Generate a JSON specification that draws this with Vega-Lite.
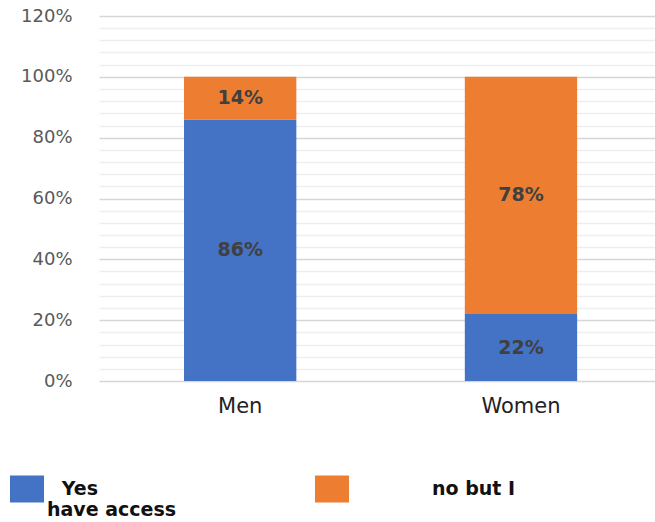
{
  "$schema": "https://vega.github.io/schema/vega-lite/v6.json",
  "width": 556,
  "height": 365,
  "autosize": {"type": "none"},
  "padding": {"left": 99, "top": 16, "right": 0, "bottom": 141},
  "background": "white",
  "config": {"view": {"stroke": null}},
  "data": {
    "values": [
      {"group": "Men", "answer": "Yes have access", "rank": 1, "share": 0.86},
      {"group": "Men", "answer": "no but I", "rank": 2, "share": 0.14},
      {"group": "Women", "answer": "Yes have access", "rank": 1, "share": 0.22},
      {"group": "Women", "answer": "no but I", "rank": 2, "share": 0.78}
    ]
  },
  "transform": [
    {"stack": "share", "groupby": ["group"], "sort": [{"field": "rank", "order": "ascending"}], "as": ["share_lo", "share_hi"]},
    {"calculate": "(datum.share_lo + datum.share_hi) / 2", "as": "share_mid"}
  ],
  "encoding": {
    "x": {
      "field": "group",
      "type": "nominal",
      "sort": ["Men", "Women"],
      "scale": {"paddingInner": 0.6, "paddingOuter": 0.29, "align": 0.522},
      "axis": {
        "title": null,
        "domain": false,
        "ticks": false,
        "grid": false,
        "labelAngle": 0,
        "labelPadding": 14,
        "labelFont": "DejaVu Sans",
        "labelFontSize": 21,
        "labelColor": "#222222"
      }
    }
  },
  "layer": [
    {
      "mark": {"type": "bar"},
      "encoding": {
        "y": {
          "field": "share_lo",
          "type": "quantitative",
          "scale": {"domain": [0, 1.2], "nice": false},
          "axis": {
            "title": null,
            "domain": false,
            "ticks": false,
            "labelOverlap": false,
            "tickCount": 60,
            "values": [0, 0.04, 0.08, 0.12, 0.16, 0.2, 0.24, 0.28, 0.32, 0.36, 0.4, 0.44, 0.48, 0.52, 0.56, 0.6, 0.64, 0.68, 0.72, 0.76, 0.8, 0.84, 0.88, 0.92, 0.96, 1.0, 1.04, 1.08, 1.12, 1.16, 1.2],
            "labelExpr": "round(datum.value * 100) % 20 === 0 ? format(datum.value, '.0%') : ''",
            "labelPadding": 27,
            "labelFont": "DejaVu Sans",
            "labelFontSize": 18,
            "labelColor": "#595959",
            "gridColor": {"condition": {"test": "round(datum.value * 100) % 20 === 0", "value": "#d6d6d6"}, "value": "#eeeeee"},
            "gridWidth": {"condition": {"test": "round(datum.value * 100) % 20 === 0", "value": 1.6}, "value": 1.3}
          }
        },
        "y2": {"field": "share_hi"},
        "color": {
          "field": "answer",
          "type": "nominal",
          "scale": {"domain": ["Yes have access", "no but I"], "range": ["#4472C4", "#ED7D31"]},
          "legend": {
            "title": null,
            "orient": "none",
            "legendX": -89,
            "legendY": 456,
            "direction": "horizontal",
            "columns": 2,
            "columnPadding": 138,
            "padding": 0,
            "symbolType": "M-1,-0.8H1V0.8H-1Z",
            "symbolSize": 1156,
            "symbolStrokeWidth": 0,
            "symbolOpacity": 1,
            "labelFont": "DejaVu Sans",
            "labelFontWeight": "bold",
            "labelFontSize": 19,
            "labelColor": "#111111",
            "labelOffset": 3,
            "labelLimit": 400,
            "labelExpr": "datum.value === 'Yes have access' ? ['\u2800Yes', 'have access'] : ['no but I', '\u2800']",
            "encode": {
              "labels": {
                "update": {
                  "dx": {"signal": "datum.value === 'no but I' ? 80 : 0"}
                }
              }
            }
          }
        },
        "order": {"field": "rank", "type": "quantitative"}
      }
    },
    {
      "mark": {
        "type": "text",
        "font": "DejaVu Sans",
        "fontWeight": "bold",
        "fontSize": 19,
        "color": "#404040",
        "align": "center",
        "baseline": "middle"
      },
      "encoding": {
        "y": {"field": "share_mid", "type": "quantitative"},
        "text": {"field": "share", "type": "quantitative", "format": ".0%"}
      }
    }
  ]
}
